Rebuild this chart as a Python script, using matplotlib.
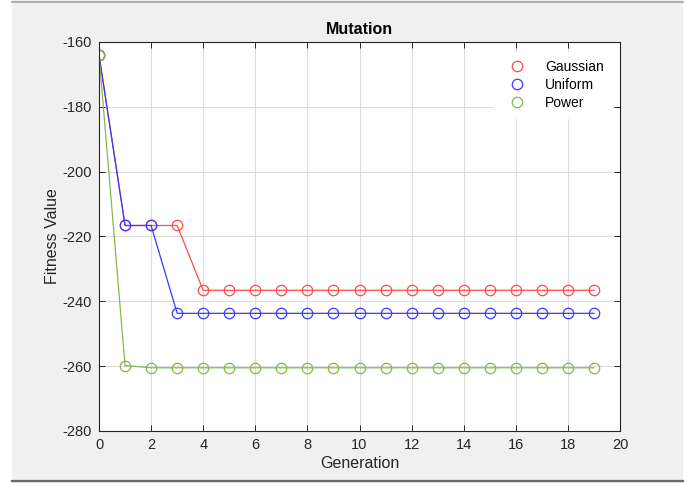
import matplotlib
matplotlib.use("Agg")
import matplotlib.pyplot as plt
from matplotlib.patches import Rectangle
from matplotlib.lines import Line2D
import numpy as np

generations = list(range(20))
gaussian = [-164, -216.6, -216.6, -216.6] + [-236.6] * 16
uniform = [-164, -216.6, -216.6, -243.7] + [-243.7] * 16
power = [-164, -259.8] + [-260.5] * 18

series_names = ["Gaussian", "Uniform", "Power"]
series_colors = ["#ff4a4a", "#3a3aff", "#86b84c"]

plt.rcParams["font.family"] = ["Liberation Sans", "DejaVu Sans"]
plt.rcParams["axes.unicode_minus"] = False

W, H = 691, 483
fig = plt.figure(figsize=(W / 100, H / 100), dpi=100, facecolor="white")

# grey window panel with thin frame lines
fig.patches.append(Rectangle((12 / W, 0), (683 - 12) / W, 1, transform=fig.transFigure,
                             facecolor="#f0f0f0", edgecolor="none", zorder=-10))
fig.lines.append(Line2D([12 / W, 683 / W], [1 - 1.5 / H, 1 - 1.5 / H], transform=fig.transFigure,
                        color="#a0a0a0", lw=1.2))
fig.lines.append(Line2D([12 / W, 683 / W], [2 / H, 2 / H], transform=fig.transFigure,
                        color="#6a6a6a", lw=1.6))

ax = fig.add_axes([99 / W, 1 - 431 / H, (620 - 99) / W, (431 - 42) / H])
ax.set_facecolor("white")

for vals, name, col in zip([gaussian, uniform, power], series_names, series_colors):
    ax.plot(generations, vals, "-o", color=col, lw=0.9, ms=7.5, mfc="none", mew=0.9,
            label=name)

ax.set_xlim(0, 20)
ax.set_ylim(-280, -160)
ax.set_xticks(np.arange(0, 21, 2))
ax.set_yticks(np.arange(-280, -159, 20))
ax.grid(True, color="#dcdcdc", lw=0.8)
ax.set_axisbelow(True)

for side in ["top", "right", "left", "bottom"]:
    ax.spines[side].set_color("#262626")
    ax.spines[side].set_linewidth(0.8)

ax.tick_params(direction="in", length=4, width=0.7, colors="#262626", labelsize=10.5,
               top=True, right=True, pad=5)
for lbl in ax.get_xticklabels() + ax.get_yticklabels():
    lbl.set_color("#262626")

ax.set_xlabel("Generation", fontsize=11.5, color="#262626", labelpad=3)
ax.set_ylabel("Fitness Value", fontsize=11.5, color="#262626", labelpad=2)
ax.set_title("Mutation", fontsize=11.5, fontweight="bold", color="black", pad=6)

leg = ax.legend(loc="upper right", bbox_to_anchor=(0.985, 0.975), frameon=True,
                fancybox=False, edgecolor="white", facecolor="white", framealpha=1,
                fontsize=10, handlelength=2.2, labelspacing=0.28, borderpad=0.6,
                handletextpad=0.9, borderaxespad=0)
for h in leg.legend_handles:
    h.set_linestyle("none")

fig.savefig("out.png", dpi=100, facecolor=fig.get_facecolor())
